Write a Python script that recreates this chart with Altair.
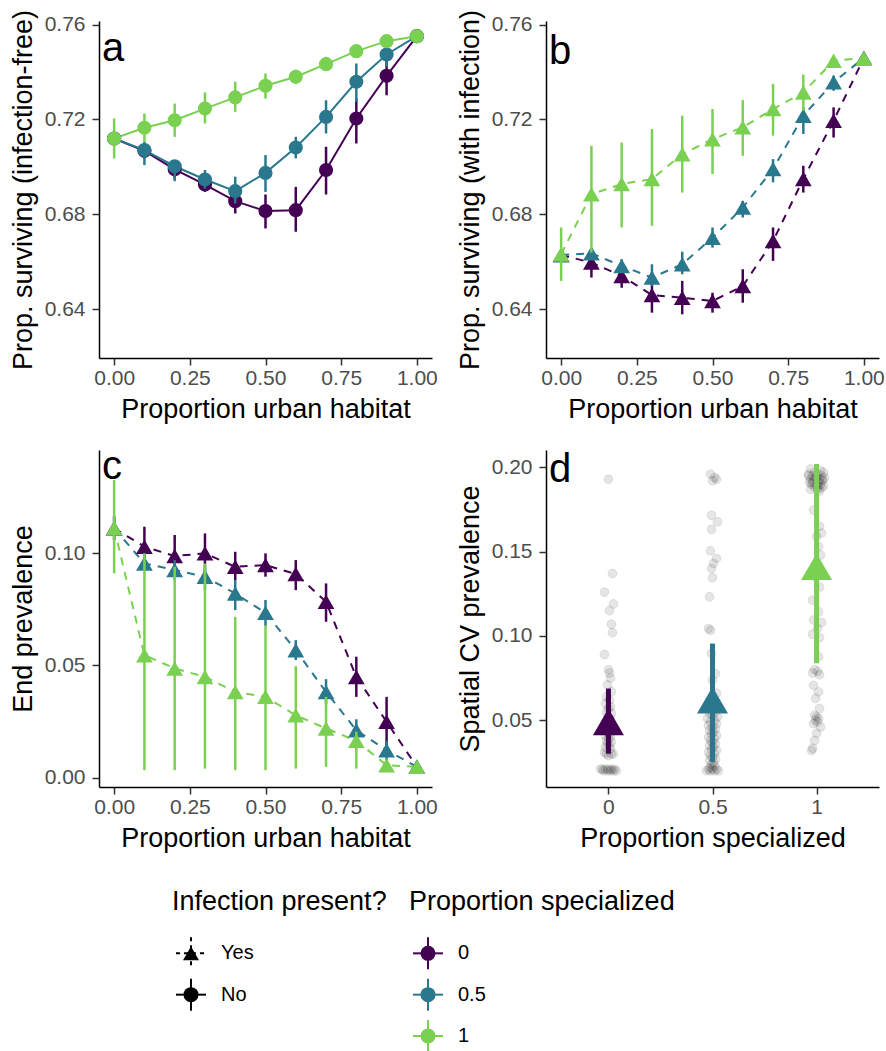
import altair as alt
import pandas as pd

FONT = "Liberation Sans"

URBAN = [0.0, 0.1, 0.2, 0.3, 0.4, 0.5, 0.6, 0.7, 0.8, 0.9, 1.0]
SPEC = ["0", "0.5", "1"]
COLORS = ["#440154", "#2A788E", "#7AD151"]

# Panel a: proportion surviving, infection-free
A_MEAN_0 = [0.712, 0.7068, 0.6990, 0.6926, 0.6856, 0.6814, 0.6818, 0.6987, 0.7204, 0.7384, 0.7551]
A_LO_0 = [0.7100, 0.7036, 0.6952, 0.6895, 0.6804, 0.6741, 0.6727, 0.6884, 0.7099, 0.7302, 0.7545]
A_HI_0 = [0.7140, 0.7092, 0.7022, 0.6959, 0.6895, 0.6884, 0.6916, 0.7085, 0.7288, 0.7457, 0.7557]
A_MEAN_05 = [0.712, 0.7071, 0.7003, 0.6947, 0.6898, 0.6975, 0.7082, 0.7211, 0.7359, 0.7474, 0.7551]
A_LO_05 = [0.7100, 0.7008, 0.6940, 0.6909, 0.6846, 0.6895, 0.7036, 0.7141, 0.7274, 0.7422, 0.7545]
A_HI_05 = [0.7140, 0.7106, 0.7029, 0.6987, 0.6959, 0.7050, 0.7127, 0.7281, 0.7436, 0.7520, 0.7557]
A_MEAN_1 = [0.712, 0.7165, 0.7197, 0.7246, 0.7293, 0.7342, 0.7380, 0.7433, 0.7488, 0.7530, 0.7551]
A_LO_1 = [0.7036, 0.7106, 0.7127, 0.7183, 0.7232, 0.7288, 0.7350, 0.7408, 0.7466, 0.7510, 0.7545]
A_HI_1 = [0.7204, 0.7225, 0.7267, 0.7314, 0.7359, 0.7394, 0.7410, 0.7464, 0.7510, 0.7550, 0.7557]

# Panel b: proportion surviving, with infection
B_MEAN_0 = [0.6629, 0.6597, 0.6541, 0.6460, 0.6449, 0.6435, 0.6498, 0.6688, 0.6949, 0.7195, 0.7459]
B_LO_0 = [0.6610, 0.6534, 0.6491, 0.6386, 0.6379, 0.6386, 0.6428, 0.6604, 0.6892, 0.7124, 0.7455]
B_HI_0 = [0.6650, 0.6632, 0.6576, 0.6520, 0.6520, 0.6470, 0.6569, 0.6745, 0.7005, 0.7251, 0.7463]
B_MEAN_05 = [0.6629, 0.6636, 0.6583, 0.6534, 0.6590, 0.6702, 0.6829, 0.6991, 0.7216, 0.7357, 0.7459]
B_LO_05 = [0.6610, 0.6615, 0.6555, 0.6498, 0.6548, 0.6660, 0.6787, 0.6935, 0.7139, 0.7321, 0.7455]
B_HI_05 = [0.6650, 0.6657, 0.6611, 0.6590, 0.6643, 0.6745, 0.6857, 0.7033, 0.7251, 0.7385, 0.7463]
B_MEAN_1 = [0.6632, 0.6885, 0.6928, 0.6949, 0.7054, 0.7117, 0.7167, 0.7244, 0.7314, 0.7448, 0.7459]
B_LO_1 = [0.6520, 0.6639, 0.6745, 0.6752, 0.6892, 0.6970, 0.7047, 0.7132, 0.7237, 0.7436, 0.7455]
B_HI_1 = [0.6745, 0.7089, 0.7103, 0.7160, 0.7216, 0.7244, 0.7282, 0.7350, 0.7389, 0.7460, 0.7463]

# Panel c: end prevalence
C_MEAN_0 = [0.1112, 0.1030, 0.0988, 0.1000, 0.0940, 0.0948, 0.0908, 0.0784, 0.0449, 0.0249, 0.0048]
C_LO_0 = [0.1060, 0.0940, 0.0896, 0.0903, 0.0881, 0.0896, 0.0836, 0.0695, 0.0360, 0.0137, 0.0045]
C_HI_0 = [0.1165, 0.1119, 0.1082, 0.1089, 0.1007, 0.1000, 0.0970, 0.0866, 0.0539, 0.0360, 0.0052]
C_MEAN_05 = [0.1112, 0.0955, 0.0926, 0.0896, 0.0821, 0.0735, 0.0568, 0.0382, 0.0211, 0.0122, 0.0048]
C_LO_05 = [0.1060, 0.0930, 0.0880, 0.0836, 0.0747, 0.0673, 0.0524, 0.0327, 0.0156, 0.0074, 0.0045]
C_HI_05 = [0.1165, 0.1000, 0.0970, 0.0940, 0.0881, 0.0792, 0.0613, 0.0439, 0.0260, 0.0164, 0.0052]
C_MEAN_1 = [0.1112, 0.0546, 0.0487, 0.0449, 0.0382, 0.0360, 0.0278, 0.0219, 0.0164, 0.0055, 0.0048]
C_LO_1 = [0.0911, 0.0033, 0.0033, 0.0040, 0.0033, 0.0033, 0.0040, 0.0048, 0.0040, 0.0045, 0.0046]
C_HI_1 = [0.1327, 0.1000, 0.0940, 0.0955, 0.0717, 0.0680, 0.0497, 0.0360, 0.0205, 0.0065, 0.0050]

# Panel d: spatial CV prevalence (individual runs) + summaries
D_Y_0 = [0.193, 0.137, 0.126, 0.119, 0.115, 0.107, 0.102, 0.089, 0.080, 0.078,
         0.075, 0.071, 0.067, 0.064, 0.062, 0.060, 0.058, 0.057, 0.055, 0.054,
         0.052, 0.051, 0.050, 0.049, 0.048, 0.047, 0.046, 0.045, 0.044, 0.043,
         0.042, 0.041, 0.040, 0.039, 0.038, 0.037, 0.036, 0.035, 0.034, 0.033,
         0.031, 0.030, 0.030, 0.029, 0.030, 0.021, 0.021, 0.021, 0.021, 0.021,
         0.020, 0.020, 0.020, 0.020, 0.021, 0.020]
D_JIT_0 = [0, 4, -4, 5, 1, 3, 4, -4, 0, 1,
           2, -1, 3, -2, 1, -3, 2, 0, -2, 3,
           -1, 2, 0, -3, 1, 3, -2, 0, 2, -1,
           1, -3, 2, 0, -2, 3, -1, 1, -3, 2,
           -4, 3, -2, 0, 5, -6, -3, 0, 3, 6,
           -5, -1, 2, 5, -8, 8]
D_Y_05 = [0.196, 0.194, 0.193, 0.192, 0.1716, 0.1677, 0.1633, 0.1505, 0.146, 0.143,
          0.140, 0.1345, 0.1232, 0.1044, 0.1034, 0.0896, 0.0777, 0.0737, 0.066, 0.060,
          0.055, 0.054, 0.053, 0.052, 0.051, 0.050, 0.049, 0.048, 0.047, 0.046,
          0.045, 0.044, 0.043, 0.042, 0.041, 0.040, 0.039, 0.038, 0.037, 0.036,
          0.035, 0.034, 0.033, 0.032, 0.031, 0.030, 0.029, 0.028, 0.027, 0.026,
          0.025, 0.024, 0.023, 0.022, 0.021, 0.021, 0.021, 0.020, 0.020, 0.020, 0.020]
D_JIT_05 = [-2, 2, 4, 0, -1, 5, -1, -2, 4, 1,
            -1, 0, -3, -4, -2, -1, 3, 0, 4, -2,
            3, -3, 0, 5, -5, 2, -2, 4, -4, 0,
            3, -3, 1, -1, 4, -4, 2, -2, 0, 3,
            -3, 1, -1, 4, -4, 2, -2, 0, 3, -3,
            1, -1, 2, -2, 0, 4, -4, 2, -2, 6, -6]
D_Y_1 = [0.199, 0.198, 0.197, 0.197, 0.196, 0.196, 0.195, 0.195, 0.194, 0.194,
         0.193, 0.193, 0.192, 0.192, 0.191, 0.191, 0.190, 0.190, 0.189, 0.189,
         0.188, 0.188, 0.187, 0.187, 0.186, 0.195, 0.193, 0.191, 0.189, 0.194,
         0.1747, 0.165, 0.161, 0.159, 0.153, 0.148, 0.135, 0.129, 0.1212, 0.1143,
         0.1095, 0.108, 0.1045, 0.101, 0.099, 0.0876, 0.080, 0.079, 0.078, 0.077,
         0.0707, 0.0668, 0.063, 0.057, 0.053, 0.052, 0.051, 0.050, 0.049, 0.048,
         0.046, 0.0422, 0.038, 0.0334, 0.032]
D_JIT_1 = [-6, 4, -2, 7, -8, 1, 5, -4, 8, -1,
           -6, 3, 6, -3, -7, 2, 4, -5, 0, 7,
           -2, 5, -6, 1, 3, -8, 6, -4, 2, 0,
           -3, 3, 5, 0, 2, 4, -2, 3, -4, 2,
           -3, 5, 1, -4, 3, 2, -2, 1, -4, 3,
           -3, 2, -1, 3, -2, 0, 2, -1, 1, -3,
           4, 0, -2, -4, -5]
D_MEAN = [0.049, 0.0619, 0.1411]
D_LO = [0.0302, 0.0253, 0.0838]
D_HI = [0.0688, 0.0955, 0.2020]
SPEC_X = [0.0, 0.5, 1.0]

X_DOM = [-0.05, 1.05]
SURV_DOM = [0.6195, 0.7615]
PREV_DOM = [-0.0042, 0.1461]
CV_DOM = [0.0104, 0.2103]
D_X_DOM = [-0.3, 1.3]

PW, PH = 333, 337

color_enc = alt.Color("spec:N", scale=alt.Scale(domain=SPEC, range=COLORS), legend=None)


def letter_layer(letter, xdom, ydom, X, Y, dy):
    lab_df = pd.DataFrame({"t": [letter], "lx": [xdom[0]], "ly": [ydom[1]]})
    return alt.Chart(lab_df).mark_text(align="left", baseline="top", dx=3, dy=dy,
                                       fontSize=40, color="black").encode(
        x=X("lx:Q"), y=Y("ly:Q"), text="t:N")


def urban_panel(means, los, his, dashed, shape, size, ydom, yvals, ytitle, letter, letter_dy):
    rows = []
    for lab, m, lo, hi in zip(SPEC, means, los, his):
        for x, mv, l, h in zip(URBAN, m, lo, hi):
            rows.append({"urban": x, "mean": mv, "lo": l, "hi": h, "spec": lab})
    df = pd.DataFrame(rows)
    xsc = alt.Scale(domain=X_DOM, nice=False, zero=False)
    ysc = alt.Scale(domain=ydom, nice=False, zero=False)
    xax = alt.Axis(values=[0, 0.25, 0.5, 0.75, 1], format=".2f", title="Proportion urban habitat")
    yax = alt.Axis(values=yvals, format=".2f", title=ytitle)

    def X(f):
        return alt.X(f, scale=xsc, axis=xax)

    def Y(f):
        return alt.Y(f, scale=ysc, axis=yax)

    base = alt.Chart(df)
    line_kw = dict(strokeWidth=2)
    if dashed:
        line_kw["strokeDash"] = [8, 7]
    layers = [base.mark_line(**line_kw).encode(x=X("urban:Q"), y=Y("mean:Q"), color=color_enc, detail="spec:N")]
    for lab in SPEC:
        g = base.transform_filter(alt.datum.spec == lab)
        layers.append(g.mark_rule(strokeWidth=2.5).encode(x=X("urban:Q"), y=Y("lo:Q"), y2="hi:Q", color=color_enc))
        layers.append(g.mark_point(shape=shape, filled=True, size=size, opacity=1).encode(
            x=X("urban:Q"), y=Y("mean:Q"), color=color_enc))
    layers.append(letter_layer(letter, X_DOM, ydom, X, Y, letter_dy))
    return alt.layer(*layers).properties(width=PW, height=PH)


pa = urban_panel([A_MEAN_0, A_MEAN_05, A_MEAN_1], [A_LO_0, A_LO_05, A_LO_1], [A_HI_0, A_HI_05, A_HI_1],
                 False, "circle", 200, SURV_DOM, [0.64, 0.68, 0.72, 0.76], "Prop. surviving (infection-free)", "a", 8)
pb = urban_panel([B_MEAN_0, B_MEAN_05, B_MEAN_1], [B_LO_0, B_LO_05, B_LO_1], [B_HI_0, B_HI_05, B_HI_1],
                 True, "triangle-up", 280, SURV_DOM, [0.64, 0.68, 0.72, 0.76], "Prop. surviving (with infection)", "b", 11)
pc = urban_panel([C_MEAN_0, C_MEAN_05, C_MEAN_1], [C_LO_0, C_LO_05, C_LO_1], [C_HI_0, C_HI_05, C_HI_1],
                 True, "triangle-up", 280, PREV_DOM, [0.0, 0.05, 0.10], "End prevalence", "c", -3)

# Panel d
pts = []
for sx, ys, js in zip(SPEC_X, [D_Y_0, D_Y_05, D_Y_1], [D_JIT_0, D_JIT_05, D_JIT_1]):
    assert len(ys) == len(js)
    for y, j in zip(ys, js):
        pts.append({"sx": sx + j / 208.0, "cv": y})
pts_df = pd.DataFrame(pts)
sum_df = pd.DataFrame({"sx": SPEC_X, "mean": D_MEAN, "lo": D_LO, "hi": D_HI, "spec": SPEC})

dxsc = alt.Scale(domain=D_X_DOM, nice=False, zero=False)
dysc = alt.Scale(domain=CV_DOM, nice=False, zero=False)
dxax = alt.Axis(values=SPEC_X, format="~g", title="Proportion specialized")
dyax = alt.Axis(values=[0.05, 0.10, 0.15, 0.20], format=".2f", title="Spatial CV prevalence")


def DX(f):
    return alt.X(f, scale=dxsc, axis=dxax)


def DY(f):
    return alt.Y(f, scale=dysc, axis=dyax)


d_layers = [alt.Chart(pts_df).mark_circle(size=80, color="black", fillOpacity=0.1, stroke="black",
                                          strokeOpacity=0.08, strokeWidth=1).encode(x=DX("sx:Q"), y=DY("cv:Q"))]
for lab in SPEC:
    g = alt.Chart(sum_df).transform_filter(alt.datum.spec == lab)
    d_layers.append(g.mark_rule(strokeWidth=5).encode(x=DX("sx:Q"), y=DY("lo:Q"), y2="hi:Q", color=color_enc))
    d_layers.append(g.mark_point(shape="triangle-up", filled=True, size=961, opacity=1).encode(
        x=DX("sx:Q"), y=DY("mean:Q"), color=color_enc))
d_layers.append(letter_layer("d", D_X_DOM, CV_DOM, DX, DY, 0))
pd_ = alt.layer(*d_layers).properties(width=PW, height=PH)

# Legend (built as its own small chart)
LEG_TITLES = ["Infection present?", "Proportion specialized"]
INF_LABELS = ["Yes", "No"]
lxs = alt.Scale(domain=[0, 1], range=[92, 329])
lys = alt.Scale(domain=[0, 3], range=[36, 160])
LX = alt.X("lx:Q", scale=lxs, axis=None)
LY = alt.Y("ly:Q", scale=lys, axis=None)

t_df = pd.DataFrame({"lx": [0, 1], "ly": [0, 0], "t": LEG_TITLES})
inf_df = pd.DataFrame({"lx": [0] * len(INF_LABELS), "ly": list(range(1, len(INF_LABELS) + 1)), "label": INF_LABELS})
col_df = pd.DataFrame({"lx": [1] * len(SPEC), "ly": list(range(1, len(SPEC) + 1)), "label": SPEC, "spec": SPEC})

leg_layers = [
    alt.Chart(t_df).mark_text(align="left", baseline="middle", dx=-19, dy=-10, fontSize=27, color="black").encode(
        x=LX, y=LY, text="t:N"),
]
yes = alt.Chart(inf_df).transform_filter(alt.datum.label == "Yes")
no = alt.Chart(inf_df).transform_filter(alt.datum.label == "No")
leg_layers += [
    yes.mark_rule(xOffset=-15, x2Offset=15, strokeDash=[4, 4], strokeWidth=2, color="black").encode(x=LX, x2="lx:Q", y=LY),
    yes.mark_rule(yOffset=-16, y2Offset=16, strokeDash=[4, 4], strokeWidth=2, color="black").encode(x=LX, y=LY, y2="ly:Q"),
    yes.mark_point(shape="triangle-up", filled=True, size=256, opacity=1, color="black").encode(x=LX, y=LY),
    no.mark_rule(xOffset=-15, x2Offset=15, strokeWidth=2, color="black").encode(x=LX, x2="lx:Q", y=LY),
    no.mark_rule(yOffset=-16, y2Offset=16, strokeWidth=2, color="black").encode(x=LX, y=LY, y2="ly:Q"),
    no.mark_point(shape="circle", filled=True, size=225, opacity=1, color="black").encode(x=LX, y=LY),
    alt.Chart(inf_df).mark_text(align="left", baseline="middle", dx=30, fontSize=20, color="black").encode(
        x=LX, y=LY, text="label:N"),
]
cl = alt.Chart(col_df)
leg_layers += [
    cl.mark_rule(xOffset=-15, x2Offset=15, strokeWidth=2).encode(x=LX, x2="lx:Q", y=LY, color=color_enc),
    cl.mark_rule(yOffset=-16, y2Offset=16, strokeWidth=2).encode(x=LX, y=LY, y2="ly:Q", color=color_enc),
    cl.mark_point(shape="circle", filled=True, size=225, opacity=1).encode(x=LX, y=LY, color=color_enc),
    cl.mark_text(align="left", baseline="middle", dx=30, fontSize=20, color="black").encode(
        x=LX, y=LY, text="label:N"),
]
legend = alt.layer(*leg_layers).properties(width=700, height=177)

row1 = alt.hconcat(pa, pb, spacing=18).resolve_scale(x="independent", y="independent")
row2 = alt.hconcat(pc, pd_, spacing=18).resolve_scale(x="independent", y="independent")

chart = alt.vconcat(row1, row2, legend, spacing=25).resolve_scale(
    x="independent", y="independent", color="shared"
).properties(
    padding={"left": 9, "top": 9, "right": 1, "bottom": 0},
    background="white"
).configure_axis(
    labelFont=FONT, titleFont=FONT, labelFontSize=21, titleFontSize=27,
    labelColor="#4D4D4D", titleColor="black", titleFontWeight="normal",
    domainColor="black", domainWidth=1.5, tickColor="#333333", tickWidth=1.5,
    tickSize=7, grid=False
).configure_axisX(labelPadding=2, titlePadding=8
).configure_axisY(labelPadding=7, titlePadding=7
).configure_view(stroke=None).configure_text(font=FONT)

chart.save("out.html", embed_options={"renderer": "svg", "actions": False})
